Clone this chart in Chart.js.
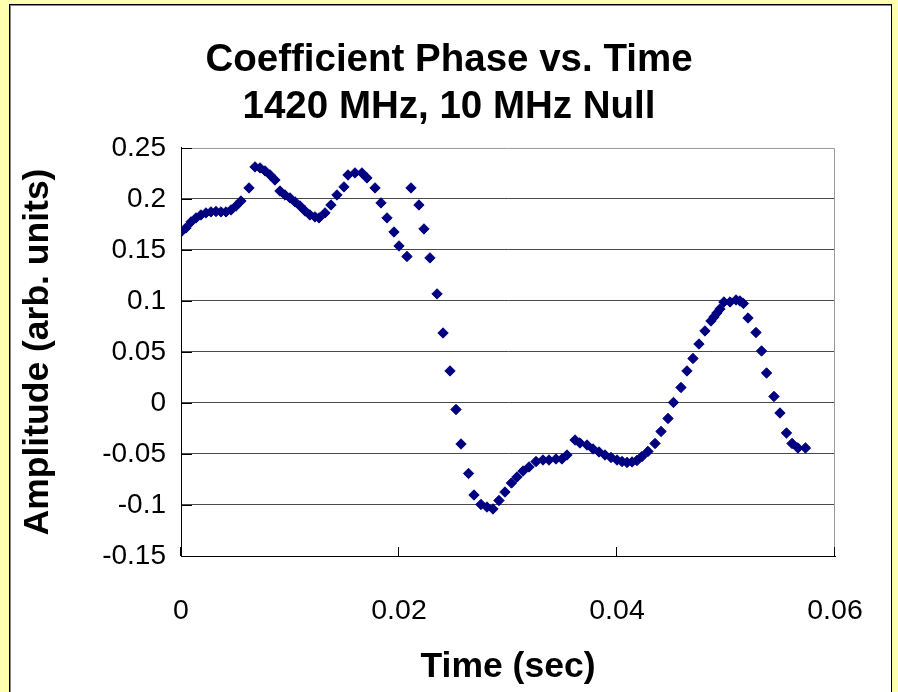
<!DOCTYPE html>
<html>
<head>
<meta charset="utf-8">
<script src="https://cdn.jsdelivr.net/npm/chart.js@4/dist/chart.umd.min.js"></script>
<style>
  html, body { margin: 0; padding: 0; }
  body { width: 898px; height: 692px; background: #ffffb0; position: relative; overflow: hidden; }
  #frame {
    position: absolute; left: 9px; top: 4px; width: 881px; height: 720px;
    background: #fff; border: 1px solid #000; box-shadow: inset 1px 1px 0 #888;
  }
  #wrap { position: absolute; left: 0; top: 0; width: 898px; height: 692px; }
</style>
</head>
<body>
<div id="frame"></div>
<div id="wrap"><canvas id="chart" width="898" height="692"></canvas></div>
<script>
// ---------- DATA ----------

const timeSec = [
  0, 0.00046, 0.00092, 0.00138, 0.00183, 0.00229, 0.00275, 0.00321, 0.00367, 0.00413,
  0.00459, 0.00505, 0.0055, 0.00624, 0.00679, 0.00725, 0.00771, 0.00817, 0.00862, 0.00908,
  0.00954, 0.01, 0.01046, 0.01092, 0.01138, 0.01183, 0.01229, 0.01266, 0.01321, 0.01376,
  0.01431, 0.01495, 0.01532, 0.01596, 0.0166, 0.01706, 0.0178, 0.01835, 0.0189, 0.01954,
  0.02, 0.02073, 0.0211, 0.02183, 0.02229, 0.02284, 0.02349, 0.02404, 0.02468, 0.02523,
  0.02569, 0.02638, 0.02688, 0.02752, 0.02807, 0.02862, 0.02917, 0.02972, 0.03032, 0.03083,
  0.03138, 0.03193, 0.03257, 0.03321, 0.03376, 0.0344, 0.03495, 0.03541, 0.03615, 0.0366,
  0.03725, 0.0378, 0.03835, 0.0389, 0.03945, 0.04, 0.04046, 0.04092, 0.04138, 0.04183,
  0.04229, 0.04284, 0.04349, 0.04404, 0.04468, 0.04518, 0.04587, 0.04642, 0.04697, 0.04752,
  0.04807, 0.04862, 0.0489, 0.04917, 0.04945, 0.04981, 0.05037, 0.05092, 0.05128, 0.0516,
  0.05202, 0.05275, 0.05326, 0.05372, 0.0544, 0.05495, 0.05555, 0.05606, 0.0566, 0.05729
];

const amplitude = [
  0.1676, 0.1716, 0.1775, 0.1814, 0.1843, 0.1863, 0.1873, 0.1877, 0.1873, 0.1873,
  0.1892, 0.1931, 0.198, 0.2108, 0.2314, 0.2304, 0.2275, 0.2235, 0.2186, 0.2078,
  0.2039, 0.201, 0.1971, 0.1931, 0.1882, 0.1843, 0.1824, 0.1814, 0.1863, 0.1941,
  0.2039, 0.2118, 0.2235, 0.2255, 0.2255, 0.2206, 0.2108, 0.1961, 0.1814, 0.1676,
  0.1539, 0.1436, 0.2108, 0.1941, 0.1706, 0.1422, 0.1069, 0.0686, 0.0314, -0.0064,
  -0.0402, -0.0691, -0.0902, -0.0995, -0.102, -0.1039, -0.0956, -0.0873, -0.0784, -0.0725,
  -0.0667, -0.0627, -0.0574, -0.0559, -0.0559, -0.0549, -0.0549, -0.051, -0.0363, -0.0392,
  -0.0412, -0.0451, -0.048, -0.051, -0.0534, -0.0559, -0.0574, -0.0583, -0.0578, -0.0564,
  -0.0525, -0.0475, -0.0397, -0.0279, -0.0152, 0.0005, 0.0152, 0.0314, 0.0436, 0.0578,
  0.0706, 0.0804, 0.0843, 0.0882, 0.0922, 0.099, 0.099, 0.101, 0.1, 0.0975,
  0.0833, 0.0691, 0.051, 0.0294, 0.0064, -0.0098, -0.0294, -0.0397, -0.0441, -0.0441
];

const xTicks = [0, 0.02, 0.04, 0.06];
const xTickLabels = ["0", "0.02", "0.04", "0.06"];
const yTicks = [-0.15, -0.1, -0.05, 0, 0.05, 0.1, 0.15, 0.2, 0.25];
const yTickLabels = ["-0.15", "-0.1", "-0.05", "0", "0.05", "0.1", "0.15", "0.2", "0.25"];

const titleLines = ["Coefficient Phase vs. Time", "1420 MHz, 10 MHz Null"];
const xTitle = "Time (sec)";
const yTitle = "Amplitude (arb. units)";

// ---------- STYLE ----------

const FONT = "'Liberation Sans', Arial, sans-serif";
const navy = "#000080";

// inside tick marks + gray top/right frame of the plot area
const plotFrame = {
  id: "plotFrame",
  beforeDatasetsDraw(chart) {
    const { ctx, chartArea: a, scales } = chart;
    ctx.save();
    ctx.strokeStyle = "#999";
    ctx.lineWidth = 1;
    ctx.beginPath();
    ctx.moveTo(a.left, a.top + 0.5);
    ctx.lineTo(a.right - 0.5, a.top + 0.5);
    ctx.lineTo(a.right - 0.5, a.bottom);
    ctx.stroke();

    ctx.strokeStyle = "#000";
    ctx.beginPath();
    yTicks.forEach(v => {
      const y = Math.round(scales.y.getPixelForValue(v)) + 0.5;
      ctx.moveTo(a.left, y);
      ctx.lineTo(a.left + 11, y);
    });
    xTicks.forEach(v => {
      const x = Math.round(scales.x.getPixelForValue(v)) - 0.5;
      ctx.moveTo(x, a.bottom);
      ctx.lineTo(x, a.bottom - 9);
    });
    ctx.stroke();
    ctx.restore();
  }
};

new Chart(document.getElementById("chart"), {
  type: "scatter",
  data: {
    datasets: [
      {
        label: "Phase",
        data: timeSec.map((t, i) => ({ x: t, y: amplitude[i] })),
        pointStyle: "rectRot",
        pointRadius: 5.2,
        pointHoverRadius: 5.2,
        borderWidth: 1,
        backgroundColor: navy,
        borderColor: navy
      }
    ]
  },
  options: {
    responsive: false,
    animation: false,
    events: [],
    layout: { padding: 0 },
    plugins: {
      legend: { display: false },
      tooltip: { enabled: false },
      title: {
        display: true,
        text: titleLines,
        color: "#000",
        font: { family: FONT, size: 38.5, weight: "bold", lineHeight: 1.22 },
        padding: { top: 36.5, bottom: 17.5 }
      }
    },
    scales: {
      x: {
        type: "linear",
        min: 0,
        max: 0.06,
        afterFit(scale) {
          scale.height = 136;
          // plot area ends 63px before the right edge
          scale.paddingRight = 63;
        },
        afterBuildTicks(scale) { scale.ticks = xTicks.map(v => ({ value: v })); },
        ticks: {
          color: "#000",
          font: { family: FONT, size: 28.5 },
          padding: 38,
          maxRotation: 0,
          callback: (v) => xTickLabels[xTicks.findIndex(t => Math.abs(t - v) < 1e-9)]
        },
        grid: { display: false, drawTicks: false },
        border: { display: true, color: "#000", width: 1 },
        title: {
          display: true,
          text: xTitle,
          color: "#000",
          font: { family: FONT, size: 35.5, weight: "bold" },
          padding: { top: 0, bottom: 3 }
        }
      },
      y: {
        type: "linear",
        min: -0.15,
        max: 0.25,
        afterFit(scale) { scale.width = 181; },
        afterBuildTicks(scale) { scale.ticks = yTicks.map(v => ({ value: v })); },
        ticks: {
          color: "#000",
          font: { family: FONT, size: 28 },
          padding: 15,
          callback: (v) => yTickLabels[yTicks.findIndex(t => Math.abs(t - v) < 1e-9)]
        },
        grid: {
          drawTicks: false,
          color: (c) => (c.tick && c.tick.value >= 0.249 ? "rgba(0,0,0,0)" : "#4a4a4a"),
          lineWidth: 1
        },
        border: { display: true, color: "#000", width: 1 },
        title: {
          display: true,
          text: yTitle,
          color: "#000",
          font: { family: FONT, size: 35.5, weight: "bold" },
          padding: { top: 17, bottom: 0 }
        }
      }
    }
  },
  plugins: [plotFrame]
});
</script>
</body>
</html>
